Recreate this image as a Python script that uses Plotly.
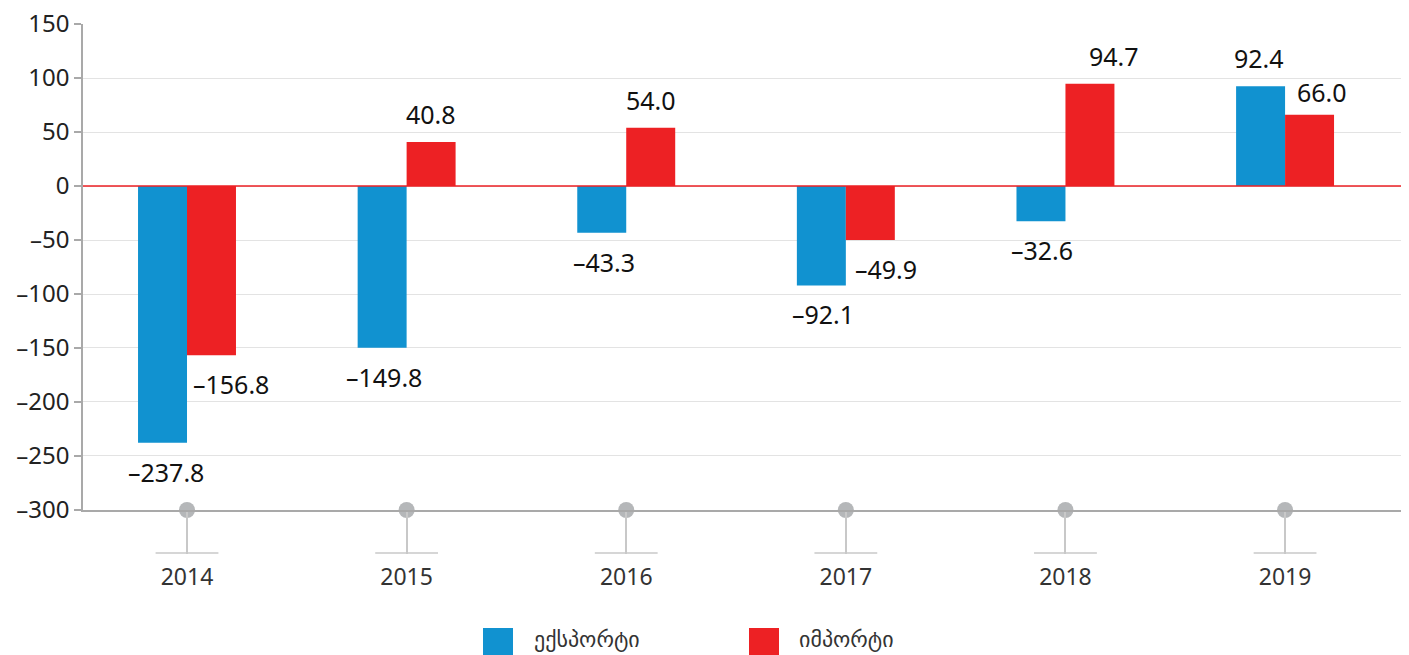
import plotly.graph_objects as go

years = ["2014", "2015", "2016", "2017", "2018", "2019"]
export_vals = [-237.8, -149.8, -43.3, -92.1, -32.6, 92.4]
import_vals = [-156.8, 40.8, 54.0, -49.9, 94.7, 66.0]
series_names = ["ექსპორტი", "იმპორტი"]
y_ticks = [150, 100, 50, 0, -50, -100, -150, -200, -250, -300]

BLUE = "#1192d0"
RED = "#ed2124"
FONT = "Noto Sans, DejaVu Sans, sans-serif"
DASH = "\u2013"


def fmt(v, nd):
    s = f"{abs(v):.{nd}f}"
    return (DASH + s) if v < 0 else s


x = list(range(len(years)))
BW = 0.223

fig = go.Figure()
fig.add_bar(x=x, y=export_vals, width=BW, offset=-BW, marker=dict(color=BLUE, line=dict(width=0)),
            name=series_names[0], showlegend=False, hoverinfo="y")
fig.add_bar(x=x, y=import_vals, width=BW, offset=0, marker=dict(color=RED, line=dict(width=0)),
            name=series_names[1], showlegend=False, hoverinfo="y")

# gray circles on the x axis
fig.add_scatter(x=x, y=[y_ticks[-1]] * len(x), mode="markers", cliponaxis=False,
                marker=dict(size=16, color="#b5b7b9"), showlegend=False, hoverinfo="skip")

# value labels
exp_dx = [3, 2, 2, 2, 1, -2]
imp_dx = [20, 0, 0, 16, 24, 12]
anns = []
for i in x:
    for v, off, dx in ((export_vals[i], -BW / 2, exp_dx[i]), (import_vals[i], BW / 2, imp_dx[i])):
        anns.append(dict(x=i + off, y=v, xref="x", yref="y", text=fmt(v, 1),
                         showarrow=False, xshift=dx, yshift=(28 if v > 0 else -29),
                         yanchor="middle", xanchor="center",
                         font=dict(family=FONT, size=25, color="#111111")))
for a in anns:
    if a["text"] == "66.0":
        a["yshift"] = 23

# page geometry: body has an 8px margin, plot area spans x 83..1403, y 24..510 on the page
OFF = 8
PL, PT, PR, PB = 83, 24, 1403, 510
W = float(PR - PL)
H = float(PB - PT)

shapes = []
for i in x:
    shapes.append(dict(type="line", xref="x", yref="paper", x0=i - 0.143, x1=i + 0.143,
                       y0=-(553 - PB) / H, y1=-(553 - PB) / H, line=dict(color="#c8c8c8", width=1.5)))
# zero line (red)
shapes.append(dict(type="line", xref="paper", yref="y", x0=0, x1=1, y0=0, y1=0,
                   line=dict(color=RED, width=1.5), layer="above"))

# manual legend
legend_items = [(series_names[0], BLUE, 483, 532), (series_names[1], RED, 749, 797)]
for name, col, sx, tx in legend_items:
    shapes.append(dict(type="rect", xref="paper", yref="paper",
                       x0=(sx - PL) / W, x1=(sx + 30 - PL) / W,
                       y0=(PB - 628) / H, y1=(PB - 658) / H,
                       fillcolor=col, line=dict(width=0)))
    anns.append(dict(x=(tx - PL) / W, y=(PB - 638) / H, xref="paper", yref="paper",
                     text=name, showarrow=False, xanchor="left", yanchor="middle",
                     font=dict(family=FONT, size=22, color="#333333")))

FW, FH = 1409 - OFF, 655 - OFF
fig.update_layout(
    width=FW, height=FH, autosize=False,
    margin=dict(l=PL - OFF, r=FW - (PR - OFF), t=PT - OFF, b=FH - (PB - OFF)),
    paper_bgcolor="white", plot_bgcolor="white",
    barmode="overlay",
    annotations=anns, shapes=shapes,
    showlegend=False,
    font=dict(family=FONT),
)
fig.update_xaxes(
    range=[-0.4736, 5.537], tickvals=x, ticktext=years,
    showgrid=False, zeroline=False, automargin=False,
    showline=True, linecolor="#a9a9a9", linewidth=1.5,
    ticks="outside", ticklen=42, tickwidth=1.5, tickcolor="#c8c8c8",
    ticklabelstandoff=4,
    tickfont=dict(family=FONT, size=23, color="#333333"),
)
fig.update_yaxes(
    range=[-300.02, 150.02], tickvals=y_ticks, ticktext=[fmt(t, 0) for t in y_ticks],
    showgrid=True, gridcolor="#e3e3e3", gridwidth=1,
    zeroline=False, automargin=False,
    showline=True, linecolor="#a9a9a9", linewidth=1.5,
    ticks="outside", ticklen=7, tickcolor="#a9a9a9", tickwidth=1.5,
    ticklabeloverflow="allow",
    tickfont=dict(family=FONT, size=24, color="#222222"),
)

fig.write_html("out.html")
